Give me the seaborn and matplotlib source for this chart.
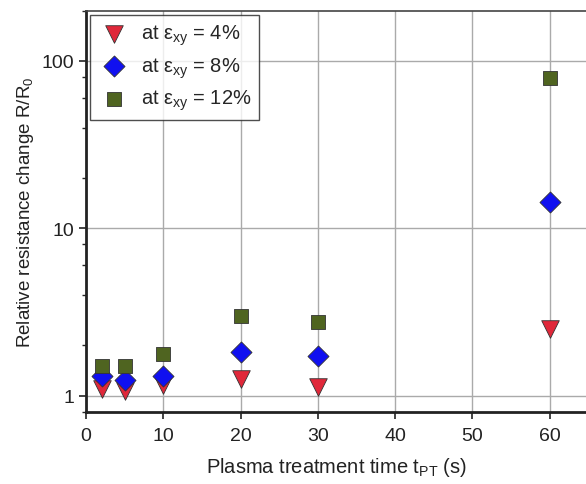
import matplotlib
matplotlib.use("Agg")
import matplotlib.pyplot as plt
import seaborn as sns
import pandas as pd
from matplotlib.ticker import LogLocator, NullFormatter, FixedLocator

t_pt = [2, 5, 10, 20, 30, 60]
r_4 = [1.09, 1.07, 1.16, 1.26, 1.12, 2.5]
r_8 = [1.31, 1.23, 1.30, 1.81, 1.72, 14.3]
r_12 = [1.50, 1.50, 1.77, 2.98, 2.74, 78.6]
labels = [r"at $\varepsilon_{xy}$ = 4%", r"at $\varepsilon_{xy}$ = 8%", r"at $\varepsilon_{xy}$ = 12%"]

rows = []
for lab, vals in zip(labels, [r_4, r_8, r_12]):
    for t, v in zip(t_pt, vals):
        rows.append({"t": t, "R": v, "series": lab})
df = pd.DataFrame(rows)

sns.set_theme(style="white")
plt.rcParams['font.family'] = ['Liberation Sans', 'DejaVu Sans']
plt.rcParams['mathtext.fontset'] = 'custom'
plt.rcParams['mathtext.rm'] = 'Liberation Sans'
plt.rcParams['mathtext.it'] = 'Liberation Sans'

fig = plt.figure(figsize=(5.86, 4.85), dpi=100)
ax = fig.add_axes([0.147, 0.149, 0.853, 0.827])

palette = {labels[0]: "#e0283a", labels[1]: "#1010f0", labels[2]: "#4f6420"}
markers = {labels[0]: "v", labels[1]: "D", labels[2]: "s"}
sizes = {labels[0]: 160, labels[1]: 115, labels[2]: 110}

ax.set_yscale("log")
ax.set_xlim(0, 64.7)
ax.set_ylim(0.8, 200)

ax.set_xticks([0, 10, 20, 30, 40, 50, 60])
ax.yaxis.set_major_locator(FixedLocator([1, 10, 100]))
ax.set_yticklabels(["1", "10", "100"])
ax.yaxis.set_minor_locator(LogLocator(base=10, subs=[2, 4, 6, 8], numticks=20))
ax.yaxis.set_minor_formatter(NullFormatter())

ax.grid(True, which="major", color="#aaaaaa", linewidth=1.0)
ax.set_axisbelow(True)

for lab in labels:
    sub = df[df["series"] == lab]
    sns.scatterplot(data=sub, x="t", y="R", ax=ax, color=palette[lab], marker=markers[lab],
                    s=sizes[lab], edgecolor="#333333", linewidth=0.6, label=lab, zorder=3)

ax.tick_params(axis="both", which="major", direction="out", length=5, width=1.2,
               labelsize=14, colors="#222222", left=True, bottom=True)
ax.tick_params(axis="x", which="major", pad=6)
ax.tick_params(axis="y", which="minor", direction="out", length=3, width=1, left=True)
for s in ["left", "bottom"]:
    ax.spines[s].set_color("#222222")
    ax.spines[s].set_linewidth(2)
ax.spines["top"].set_color("#444444")
ax.spines["top"].set_linewidth(1.2)
ax.spines["right"].set_visible(False)

ax.set_xlabel(r"Plasma treatment time t$_{\mathrm{PT}}$ (s)", fontsize=14.5, color="#222222", labelpad=8)
ax.set_ylabel(r"Relative resistance change R/R$_0$", fontsize=13.5, color="#222222", labelpad=4)

leg = ax.legend(loc="upper left", fontsize=14.5, frameon=True, fancybox=False,
                edgecolor="#222222", borderaxespad=0.2, handletextpad=0.5,
                labelspacing=0.4, borderpad=0.4, handlelength=1.6)
leg.get_frame().set_linewidth(1.0)

fig.savefig("out.png", dpi=100)
